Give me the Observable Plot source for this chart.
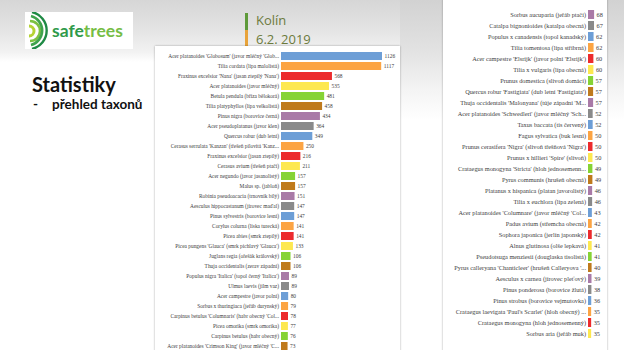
<!DOCTYPE html>
<html><head><meta charset="utf-8">
<script src="https://cdn.jsdelivr.net/npm/d3@7"></script>
<script src="https://cdn.jsdelivr.net/npm/@observablehq/plot@0.6"></script>
<style>
html,body{margin:0;padding:0;}
body{width:624px;height:350px;overflow:hidden;position:relative;font-family:Lato,"Liberation Sans",sans-serif;
background:linear-gradient(to bottom,#d6d6d6 0px,#e4e4e4 30px,#f2f2f2 52px,#ffffff 62px,#ffffff 350px);}
.abs{position:absolute;}
#bgR{left:400px;top:0;width:224px;height:120px;background:linear-gradient(to bottom,#d2d2d2 0px,#e2e2e2 50px,#f4f4f4 90px,#ffffff 120px);}
#logo{left:25px;top:12px;width:108px;height:37px;background:#fff;}
#panelL{left:155px;top:46px;width:245px;height:310px;background:#fff;box-shadow:0 0 2px rgba(0,0,0,0.35);overflow:hidden;}
#panelR{left:443px;top:-2px;width:164px;height:356px;background:#fff;box-shadow:0 0 2px rgba(0,0,0,0.35);overflow:hidden;}
#panelR > svg{position:absolute;top:2px;left:0;}
.barv{left:245px;width:3px;}
</style></head>
<body>
<div id="bgR" class="abs"></div>
<div id="logo" class="abs">
<svg width="108" height="37" viewBox="0 0 108 37">
 <path d="M4 14 A5 5 0 0 1 4 24" fill="none" stroke="#b5d334" stroke-width="3"/>
 <path d="M5 9 A10 10 0 0 1 5 29" fill="none" stroke="#7cc142" stroke-width="2.6"/>
 <path d="M6 4 A15 15 0 0 1 6 33" fill="none" stroke="#3fa34d" stroke-width="2.6"/>
 <path d="M7 0 A19 19 0 0 1 7 37" fill="none" stroke="#1f8a45" stroke-width="2.4"/>
 <text x="27" y="25" font-family="Lato, 'Open Sans', sans-serif" font-weight="700" font-size="17.5"><tspan fill="#2f9a4b">safe</tspan><tspan fill="#76bd45">trees</tspan></text>
</svg>
</div>
<div class="abs barv" style="top:13px;height:17px;background:#5e9a3a"></div>
<div class="abs barv" style="top:30px;height:17px;background:#e8a33a"></div>
<div class="abs" style="left:256px;top:11px;font-size:13px;color:#6c7a3c;font-family:'Open Sans',sans-serif;line-height:19px">Kolín<br>6.2. 2019</div>
<div class="abs" style="left:32px;top:72px;font-size:20px;font-weight:700;color:#111;font-family:Lato,sans-serif">Statistiky</div>
<div class="abs" style="left:33px;top:96px;font-size:13.5px;font-weight:700;color:#111;font-family:Lato,sans-serif">-<span style="margin-left:14px">přehled taxonů</span></div>
<div id="panelL" class="abs"></div>
<div id="panelR" class="abs"></div>
<script>
const leftTaxa = [
 "Acer platanoides 'Globosum' (javor mléčný 'Glob...",
 "Tilia cordata (lípa malolistá)",
 "Fraxinus excelsior 'Nana' (jasan ztepilý 'Nana')",
 "Acer platanoides (javor mléčný)",
 "Betula pendula (bříza bělokorá)",
 "Tilia platyphyllos (lípa velkolistá)",
 "Pinus nigra (borovice černá)",
 "Acer pseudoplatanus (javor klen)",
 "Quercus robur (dub letní)",
 "Cerasus serrulata 'Kanzan' (třešeň pilovitá 'Kanz...",
 "Fraxinus excelsior (jasan ztepilý)",
 "Cerasus avium (třešeň ptačí)",
 "Acer negundo (javor jasanolistý)",
 "Malus sp. (jabloň)",
 "Robinia pseudoacacia (trnovník bílý)",
 "Aesculus hippocastanum (jírovec maďal)",
 "Pinus sylvestris (borovice lesní)",
 "Corylus colurna (líska turecká)",
 "Picea abies (smrk ztepilý)",
 "Picea pungens 'Glauca' (smrk pichlavý 'Glauca')",
 "Juglans regia (ořešák královský)",
 "Thuja occidentalis (zerav západní)",
 "Populus nigra 'Italica' (topol černý 'Italica')",
 "Ulmus laevis (jilm vaz)",
 "Acer campestre (javor polní)",
 "Sorbus x thuringiaca (jeřáb durynský)",
 "Carpinus betulus 'Columnaris' (habr obecný 'Col...",
 "Picea omorika (smrk omorika)",
 "Carpinus betulus (habr obecný)",
 "Acer platanoides 'Crimson King' (javor mléčný 'C..."
];
const leftValues = [1126,1117,568,535,481,458,434,364,349,250,216,211,157,157,151,147,147,141,141,133,106,106,89,89,80,79,78,77,76,73];

const rightTaxa = [
 "Sorbus aucuparia (jeřáb ptačí)",
 "Catalpa bignonioides (katalpa obecná)",
 "Populus x canadensis (topol kanadský)",
 "Tilia tomentosa (lípa stříbrná)",
 "Acer campestre 'Elsrijk' (javor polní 'Elsrijk')",
 "Tilia x vulgaris (lípa obecná)",
 "Prunus domestica (slivoň domácí)",
 "Quercus robur 'Fastigiata' (dub letní 'Fastigiata')",
 "Thuja occidentalis 'Malonyana' (túje západní 'M...",
 "Acer platanoides 'Schwedleri' (javor mléčný 'Sch...",
 "Taxus baccata (tis červený)",
 "Fagus sylvatica (buk lesní)",
 "Prunus cerasifera 'Nigra' (slivoň třešňová 'Nigra')",
 "Prunus x hillieri 'Spire' (slivoň)",
 "Crataegus monogyna 'Stricta' (hloh jednosemenn...",
 "Pyrus communis (hrušeň obecná)",
 "Platanus x hispanica (platan javorolistý)",
 "Tilia x euchlora (lípa zelená)",
 "Acer platanoides 'Columnare' (javor mléčný 'Col...",
 "Padus avium (střemcha obecná)",
 "Sophora japonica (jerlín japonský)",
 "Alnus glutinosa (olše lepkavá)",
 "Pseudotsuga menziesii (douglaska tisolistá)",
 "Pyrus calleryana 'Chanticleer' (hrušeň Calleryova '...",
 "Aesculus x carnea (jírovec pleťový)",
 "Pinus ponderosa (borovice žlutá)",
 "Pinus strobus (borovice vejmutovka)",
 "Crataegus laevigata 'Paul's Scarlet' (hloh obecný) ...",
 "Crataegus monogyna (hloh jednosemenný)",
 "Sorbus aria (jeřáb muk)"
];
const rightValues = [68,67,62,62,60,60,57,57,57,52,52,50,50,50,49,49,46,46,43,42,42,41,41,40,39,38,36,35,35,35];

const palette = ["#6d9ed6","#fca443","#ec2b2d","#fde850","#86d335","#bf7a1c","#a97aa7","#8a8a8a"];

const leftRows = leftTaxa.map((t,i)=>({taxon:t, value:leftValues[i], k:i%8}));
const rightRows = rightTaxa.map((t,i)=>({taxon:t, value:rightValues[i], k:(i+leftTaxa.length)%8}));

const pxPerUnit = 101/1126;
const maxV = 1126;

function chart(rows, taxa, o){
  return Plot.plot({
    width:o.width, height:o.height,
    marginLeft:o.ml, marginRight:0, marginTop:o.mt, marginBottom:o.mb,
    style:{background:"transparent", fontFamily:"'Liberation Serif', serif", fontSize:o.fs+"px", color:"#404040"},
    x:{domain:[0,maxV], range:[o.ml, o.ml+maxV*pxPerUnit], axis:null},
    y:{domain:taxa, paddingInner:0.2, paddingOuter:0.1, label:null},
    color:{type:"ordinal", domain:d3.range(8), range:palette},
    marks:[
      Plot.axisY({tickSize:0, tickPadding:o.tp, label:null, fontSize:o.fs, fill:"#404040"}),
      Plot.barX(rows,{x:"value", y:"taxon", fill:"k"}),
      Plot.text(rows,{x:"value", y:"taxon", text:d=>String(d.value), dx:2, textAnchor:"start", fontSize:o.fs, fill:"#404040"})
    ]
  });
}
document.getElementById("panelL").appendChild(chart(leftRows, leftTaxa, {width:245, height:305, ml:126, mt:4, mb:0, fs:5.4, tp:2.5}));
document.getElementById("panelR").appendChild(chart(rightRows, rightTaxa, {width:164, height:350, ml:145, mt:0.2, mb:3.3, fs:6.3, tp:2.5}));
</script>
</body></html>
